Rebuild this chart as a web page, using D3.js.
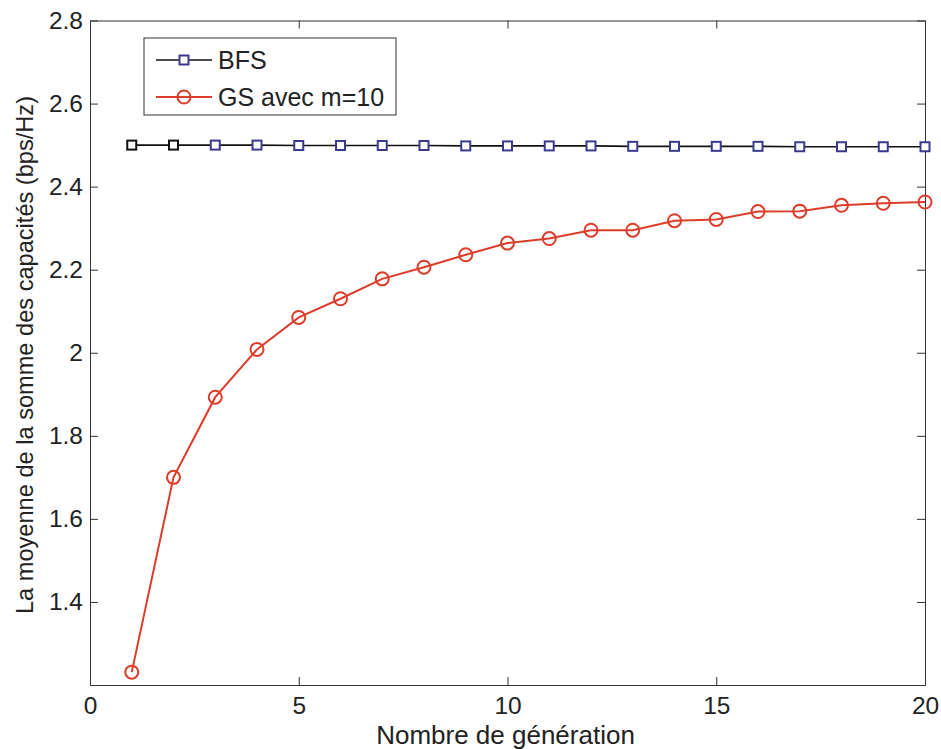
<!DOCTYPE html>
<html lang="fr">
<head>
	<meta charset="UTF-8">
	<title>Capacités</title>
	<style>
		body {
			margin: 0;
			background: #fff;
		}
		svg {
			display: block;
			font-family: "Liberation Sans", Arial, sans-serif;
		}
		.tick text {
			font-size: 24.5px;
			fill: #222;
		}
	</style>
</head>
<body>
<svg></svg>
<script src="https://cdn.jsdelivr.net/npm/d3@7"></script>
<script>
	const width = 941,
		height = 749;
	const margin = {top: 20.5, right: 16, bottom: 64, left: 90};

	// data
	const generations = d3.range(1, 21);
	const bfsValues = [2.500, 2.500, 2.500, 2.500, 2.499, 2.499, 2.499, 2.499, 2.498, 2.498,
		2.498, 2.498, 2.497, 2.497, 2.497, 2.497, 2.496, 2.496, 2.496, 2.496];
	const gsValues = [1.231, 1.700, 1.893, 2.008, 2.085, 2.130, 2.178, 2.206, 2.236, 2.264,
		2.275, 2.295, 2.295, 2.318, 2.321, 2.340, 2.341, 2.355, 2.360, 2.363];
	const xTicks = [0, 5, 10, 15, 20];
	const yTicks = [1.4, 1.6, 1.8, 2, 2.2, 2.4, 2.6, 2.8];
	const seriesNames = ['BFS', 'GS avec m=10'];

	const red = '#dc3c2a',
		navy = '#3a3a8e',
		axisColor = '#333';

	const svg = d3.select('svg')
		.attr('width', width)
		.attr('height', height);

	const x = d3.scaleLinear()
		.domain([0, 20])
		.range([margin.left, width - margin.right]);
	const y = d3.scaleLinear()
		.domain([1.2, 2.8])
		.range([height - margin.bottom, margin.top]);

	const bfs = generations.map((g, i) => ({x: g, y: bfsValues[i]}));
	const gs = generations.map((g, i) => ({x: g, y: gsValues[i]}));

	// axes, MATLAB style: ticks inside, on all four sides
	const tickLen = 8;
	const fmt = d => String(d);
	const axBottom = svg.append('g')
		.attr('transform', `translate(0,${y.range()[0]})`)
		.call(d3.axisBottom(x).tickValues(xTicks).tickSizeInner(-tickLen).tickSizeOuter(0).tickPadding(12).tickFormat(fmt));
	const axTop = svg.append('g')
		.attr('transform', `translate(0,${y.range()[1]})`)
		.call(d3.axisTop(x).tickValues(xTicks).tickSizeInner(-tickLen).tickSizeOuter(0).tickFormat(''));
	const axLeft = svg.append('g')
		.attr('transform', `translate(${x.range()[0]},0)`)
		.call(d3.axisLeft(y).tickValues(yTicks).tickSizeInner(-tickLen).tickSizeOuter(0).tickPadding(7).tickFormat(fmt));
	const axRight = svg.append('g')
		.attr('transform', `translate(${x.range()[1]},0)`)
		.call(d3.axisRight(y).tickValues(yTicks).tickSizeInner(-tickLen).tickSizeOuter(0).tickFormat(''));

	[axBottom, axTop, axLeft, axRight].forEach(a => {
		a.selectAll('path, line').attr('stroke', axisColor).attr('stroke-width', 1);
		a.attr('font-family', null).attr('font-size', null);
	});

	// axis titles
	svg.append('text')
		.attr('x', (x.range()[0] + x.range()[1]) / 2 - 2)
		.attr('y', 744)
		.attr('text-anchor', 'middle')
		.attr('font-size', 26)
		.attr('fill', '#222')
		.text('Nombre de génération');
	svg.append('text')
		.attr('transform', 'translate(33,355) rotate(-90)')
		.attr('text-anchor', 'middle')
		.attr('font-size', 23.6)
		.attr('fill', '#222')
		.text('La moyenne de la somme des capacités (bps/Hz)');

	const line = d3.line().x(d => x(d.x)).y(d => y(d.y));

	// BFS
	svg.append('path')
		.datum(bfs)
		.attr('fill', 'none')
		.attr('stroke', '#111')
		.attr('stroke-width', 1.6)
		.attr('d', line);
	svg.selectAll('rect.bfs')
		.data(bfs)
		.enter()
		.append('rect')
		.attr('class', 'bfs')
		.attr('x', d => x(d.x) - 4.5)
		.attr('y', d => y(d.y) - 4.5)
		.attr('width', 9)
		.attr('height', 9)
		.attr('fill', '#fff')
		.attr('stroke', (d, i) => i < 2 ? '#111' : navy)
		.attr('stroke-width', 2);

	// GS
	svg.append('path')
		.datum(gs)
		.attr('fill', 'none')
		.attr('stroke', red)
		.attr('stroke-width', 2)
		.attr('d', line);
	svg.selectAll('circle.gs')
		.data(gs)
		.enter()
		.append('circle')
		.attr('class', 'gs')
		.attr('cx', d => x(d.x))
		.attr('cy', d => y(d.y))
		.attr('r', 6.5)
		.attr('fill', 'none')
		.attr('stroke', red)
		.attr('stroke-width', 2);

	// legend
	const legend = svg.append('g');
	legend.append('rect')
		.attr('x', 144)
		.attr('y', 38)
		.attr('width', 252)
		.attr('height', 77)
		.attr('fill', '#fff')
		.attr('stroke', axisColor)
		.attr('stroke-width', 1);
	const legendRows = [
		{name: seriesNames[0], color: '#111', marker: 'square', cy: 60},
		{name: seriesNames[1], color: red, marker: 'circle', cy: 97}
	];
	legendRows.forEach(r => {
		legend.append('line')
			.attr('x1', 156).attr('x2', 212)
			.attr('y1', r.cy).attr('y2', r.cy)
			.attr('stroke', r.color)
			.attr('stroke-width', r.marker === 'circle' ? 2 : 1.6);
		if (r.marker === 'square') {
			legend.append('rect')
				.attr('x', 184 - 4.5).attr('y', r.cy - 4.5)
				.attr('width', 9).attr('height', 9)
				.attr('fill', '#fff')
				.attr('stroke', navy)
				.attr('stroke-width', 2);
		} else {
			legend.append('circle')
				.attr('cx', 184).attr('cy', r.cy)
				.attr('r', 6.5)
				.attr('fill', 'none')
				.attr('stroke', red)
				.attr('stroke-width', 2);
		}
		legend.append('text')
			.attr('x', 218)
			.attr('y', r.cy + 9)
			.attr('font-size', 25)
			.attr('fill', '#222')
			.text(r.name);
	});
</script>
</body>
</html>
